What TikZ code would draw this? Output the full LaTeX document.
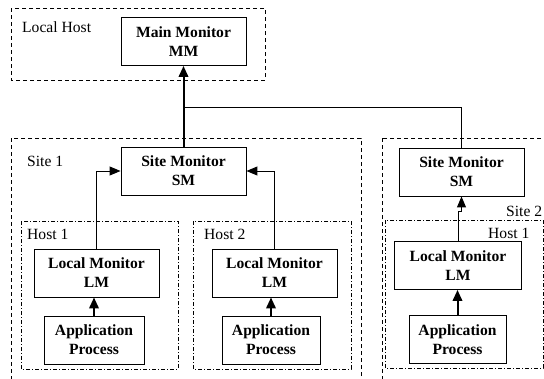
\documentclass[tikz,border=0pt]{standalone}
\usepackage{fontspec}
\setmainfont{Liberation Serif}
\usetikzlibrary{arrows.meta}
\begin{document}
\begin{tikzpicture}[x=1pt,y=-1pt,
  monitor/.style={draw, line width=0.9pt, inner sep=0pt,
    font=\fontsize{15.6}{19}\selectfont\bfseries, align=center,
    minimum width=#1, minimum height=48pt},
  monitor/.default=125pt,
  lbl/.style={inner sep=0pt, anchor=base west, font=\fontsize{15.6}{19}\selectfont},
  sitebox/.style={draw, line width=0.9pt, dash pattern=on 4pt off 3pt},
  hostbox/.style={draw, line width=0.9pt, dash pattern=on 4pt off 2pt on 1pt off 2pt},
  thinarr/.style={line width=1pt, -{Triangle[length=11pt,width=9pt]}},
  thickarr/.style={line width=2pt, -{Triangle[length=11pt,width=9.5pt]}},
  thinline/.style={line width=1pt}]
\useasboundingbox (0,0) rectangle (544,378);
\clip (0,0) rectangle (544,378);

% grouping frames
\draw[sitebox] (11,8) rectangle (265,80);
\draw[sitebox] (11,138) rectangle (361,390);
\draw[sitebox] (382,138) rectangle (556,390);
\draw[hostbox] (21,221) rectangle (178,369);
\draw[hostbox] (193,221) rectangle (351,369);
\draw[hostbox] (385,220) rectangle (543,368);

% frame labels
\node[lbl] (lLocal) at (22,32) {Local Host};
\node[lbl] (lSite1) at (27,166) {Site 1};
\node[lbl] (lHost11) at (27,239) {Host 1};
\node[lbl] (lHost12) at (204,239) {Host 2};
\node[lbl] (lSite2) at (506,216) {Site 2};
\node[lbl] (lHost21) at (488,238) {Host 1};

% monitors and processes
\node[monitor] (MM) at (183.5,41.5) {Main Monitor\\MM};
\node[monitor] (SM1) at (183.5,171) {Site Monitor\\SM};
\node[monitor] (SM2) at (461.5,172) {Site Monitor\\SM};
\node[monitor] (LM1) at (96.5,273) {Local Monitor\\LM};
\node[monitor] (LM2) at (274.5,273) {Local Monitor\\LM};
\node[monitor=127pt] (LM3) at (458,265.5) {Local Monitor\\LM};
\node[monitor=100pt] (AP1) at (94,340) {Application\\Process};
\node[monitor=98pt] (AP2) at (271,340) {Application\\Process};
\node[monitor=97pt] (AP3) at (457.5,339.5) {Application\\Process};

% reporting paths
\coordinate (J) at (183.5,107);
\coordinate (K) at (0,211);
\draw[thickarr] (SM1.north) -- (MM.south);
\draw[thinline] (SM2.north) |- (J);
\draw[thinarr] (LM1.north) |- (SM1.west);
\draw[thinarr] (LM2.north) |- (SM1.east);
\draw[thinarr] (LM3.north) -- (LM3.north |- K) -| (SM2.south);
\draw[thickarr] (AP1.north) -- (AP1.north |- LM1.south);
\draw[thickarr] (AP2.north) -- (AP2.north |- LM2.south);
\draw[thickarr] (AP3.north) -- (AP3.north |- LM3.south);
\end{tikzpicture}
\end{document}
